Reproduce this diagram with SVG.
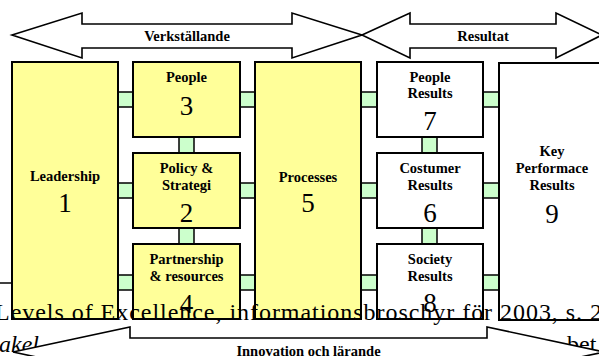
<svg xmlns="http://www.w3.org/2000/svg" width="599" height="356" viewBox="0 0 599 356">
  <style>
    .arrow { fill: #ffffff; stroke: #000000; stroke-width: 1.6; stroke-linejoin: miter; }
    .box { stroke: #000000; stroke-width: 2; }
    .enabler { fill: #ffff99; }
    .result { fill: #ffffff; }
    .link { fill: #ccffcc; stroke: #000000; stroke-width: 1.5; }
    .lbl { font-family: "Liberation Serif", "Times New Roman", serif; font-weight: bold; font-size: 14.5px; text-anchor: middle; fill: #000000; }
    .num { font-family: "Liberation Serif", "Times New Roman", serif; font-size: 27px; text-anchor: middle; fill: #000000; }
    .body { font-family: "Liberation Serif", "Times New Roman", serif; font-size: 24px; fill: #000000; }
  </style>
  <rect x="0" y="0" width="599" height="356" fill="#ffffff"/>

  <!-- Top band arrows -->
  <g id="arrow-verkstallande">
    <polygon class="arrow" points="12,35 82,13 82,24 292,24 292,13 362,35 292,58 292,48 82,48 82,58"/>
    <text class="lbl" x="187" y="41">Verkställande</text>
  </g>
  <g id="arrow-resultat">
    <polygon class="arrow" points="362,35 410,13 410,24 556,24 556,13 602,35 556,58 556,48 410,48 410,58"/>
    <text class="lbl" x="483" y="41">Resultat</text>
  </g>

  <!-- Connectors between the criteria boxes -->
  <g id="connectors">
    <rect class="link" x="118" y="92" width="15" height="15"/>
    <rect class="link" x="118" y="183" width="15" height="15"/>
    <rect class="link" x="118" y="275" width="15" height="15"/>
    <rect class="link" x="179" y="137" width="15" height="16"/>
    <rect class="link" x="179" y="228" width="15" height="16"/>
    <rect class="link" x="240" y="92" width="15" height="15"/>
    <rect class="link" x="240" y="183" width="15" height="15"/>
    <rect class="link" x="240" y="275" width="15" height="15"/>
    <rect class="link" x="361" y="92" width="16" height="15"/>
    <rect class="link" x="361" y="183" width="16" height="15"/>
    <rect class="link" x="361" y="275" width="16" height="15"/>
    <rect class="link" x="422" y="137" width="15" height="16"/>
    <rect class="link" x="422" y="228" width="15" height="16"/>
    <rect class="link" x="483" y="92" width="16" height="15"/>
    <rect class="link" x="483" y="183" width="16" height="15"/>
    <rect class="link" x="483" y="275" width="16" height="15"/>
  </g>

  <!-- Enablers -->
  <g id="node-leadership">
    <rect class="box enabler" x="12" y="62" width="106" height="257"/>
    <text class="lbl" x="65" y="181">Leadership</text>
    <text class="num" x="65" y="212">1</text>
  </g>
  <g id="node-people">
    <rect class="box enabler" x="133" y="62" width="107" height="75"/>
    <text class="lbl" x="186.5" y="82">People</text>
    <text class="num" x="186.5" y="115">3</text>
  </g>
  <g id="node-policy">
    <rect class="box enabler" x="133" y="153" width="107" height="75"/>
    <text class="lbl" x="186.5" y="173">Policy &amp;</text>
    <text class="lbl" x="186.5" y="190">Strategi</text>
    <text class="num" x="186.5" y="222">2</text>
  </g>
  <g id="node-partnership">
    <rect class="box enabler" x="133" y="244" width="107" height="75"/>
    <text class="lbl" x="186.5" y="264">Partnership</text>
    <text class="lbl" x="186.5" y="281">&amp; resources</text>
    <text class="num" x="186.5" y="313">4</text>
  </g>
  <g id="node-processes">
    <rect class="box enabler" x="255" y="62" width="106" height="257"/>
    <text class="lbl" x="308" y="182">Processes</text>
    <text class="num" x="308" y="212">5</text>
  </g>

  <!-- Results -->
  <g id="node-people-results">
    <rect class="box result" x="377" y="62" width="106" height="75"/>
    <text class="lbl" x="430" y="82">People</text>
    <text class="lbl" x="430" y="98">Results</text>
    <text class="num" x="430" y="130">7</text>
  </g>
  <g id="node-costumer-results">
    <rect class="box result" x="377" y="153" width="106" height="75"/>
    <text class="lbl" x="430" y="173">Costumer</text>
    <text class="lbl" x="430" y="190">Results</text>
    <text class="num" x="430" y="222">6</text>
  </g>
  <g id="node-society-results">
    <rect class="box result" x="377" y="244" width="106" height="75"/>
    <text class="lbl" x="430" y="264">Society</text>
    <text class="lbl" x="430" y="281">Results</text>
    <text class="num" x="430" y="312">8</text>
  </g>
  <g id="node-key-results">
    <rect class="box result" x="499" y="63" width="112" height="257"/>
    <text class="lbl" x="552" y="156">Key</text>
    <text class="lbl" x="552" y="173">Performace</text>
    <text class="lbl" x="552" y="190">Results</text>
    <text class="num" x="552" y="223">9</text>
  </g>

  <!-- Stray rule at the left margin -->
  <line x1="0" y1="283" x2="12" y2="283" stroke="#000000" stroke-width="1.5"/>

  <!-- Running text of the page -->
  <g id="page-text">
    <text class="body" x="-5" y="320" textLength="607" lengthAdjust="spacing">Levels of Excellence, informationsbroschyr för 2003, s. 2</text>
    <text class="body" y="352"><tspan x="-1" font-style="italic">akel</tspan><tspan x="567">bet</tspan></text>
  </g>

  <!-- Bottom band arrow -->
  <g id="arrow-innovation">
    <polygon class="arrow" points="13,352 130,327 130,338 487,338 487,327 604,352 487,377 487,366 130,366 130,377"/>
    <text class="lbl" x="308.5" y="356">Innovation och lärande</text>
  </g>
</svg>
